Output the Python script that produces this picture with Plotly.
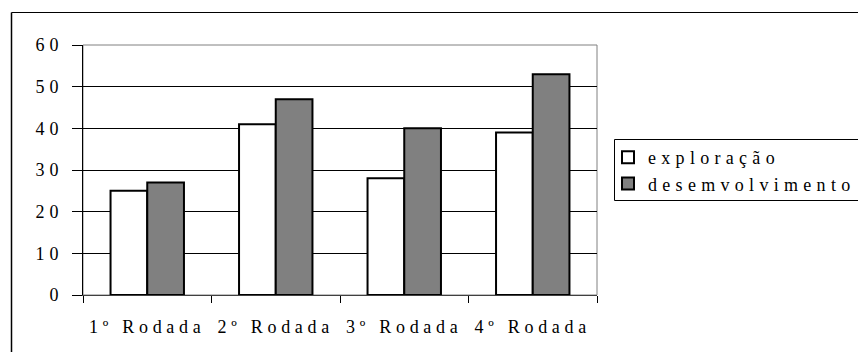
import plotly.graph_objects as go

categories = ["1º Rodada", "2º Rodada", "3º Rodada", "4º Rodada"]
exploracao = [25, 41, 28, 39]
desenvolvimento = [27, 47, 40, 53]
series_names = ["exploração", "desemvolvimento"]
y_ticks = [0, 10, 20, 30, 40, 50, 60]

FONT = "Liberation Serif, Times New Roman, serif"

fig = go.Figure()
fig.add_trace(go.Bar(
    x=categories, y=exploracao, name=series_names[0],
    marker=dict(color="#ffffff", line=dict(color="#000000", width=2)),
    legendgroup="a",
))
fig.add_trace(go.Bar(
    x=categories, y=desenvolvimento, name=series_names[1],
    marker=dict(color="#808080", line=dict(color="#000000", width=2)),
    legendgroup="b",
))

W, H = 858, 352
L, R, T, B = 83, 261, 45, 57
pw, ph = W - L - R, H - T - B

def px2x(px):
    return (px - L) / pw

def py2y(py):
    return (H - B - py) / ph

fig.update_layout(
    width=W, height=H,
    margin=dict(l=L, r=R, t=T, b=B, pad=0, autoexpand=False),
    paper_bgcolor="#ffffff", plot_bgcolor="#ffffff",
    font=dict(family=FONT, size=18, color="#000000"),
    barmode="group", bargap=1.5 / 3.5, bargroupgap=0,
    showlegend=True,
    legend=dict(
        x=px2x(608), y=py2y(139), xanchor="left", yanchor="top",
        bgcolor="rgba(0,0,0,0)", borderwidth=0,
        font=dict(family=FONT, size=18, color="#000000"),
        tracegroupgap=5, traceorder="normal",
    ),
    xaxis=dict(
        type="category", tickson="boundaries", ticks="outside", ticklen=7,
        tickcolor="#000000", tickwidth=1, automargin=False,
        showline=True, linecolor="#404040", linewidth=1,
        showgrid=False, ticklabelstandoff=15,
        tickfont=dict(family=FONT, size=18, color="#000000"),
    ),
    yaxis=dict(
        range=[0, 60], tickvals=y_ticks, ticks="outside", ticklen=10,
        tickcolor="#000000", tickwidth=1, automargin=False,
        showline=True, linecolor="#000000", linewidth=1,
        showgrid=True, gridcolor="#000000", gridwidth=1, zeroline=False,
        ticklabelstandoff=5,
        tickfont=dict(family=FONT, size=18, color="#000000"),
    ),
    shapes=[
        dict(type="rect", xref="paper", yref="paper", x0=0, x1=1, y0=0, y1=1,
             line=dict(color="#808080", width=1), layer="below"),
        dict(type="line", xref="paper", yref="paper",
             x0=px2x(11.5), x1=px2x(11.5), y0=py2y(360), y1=py2y(12.5),
             line=dict(color="#000000", width=1.5), layer="above"),
        dict(type="line", xref="paper", yref="paper",
             x0=px2x(11.5), x1=px2x(870), y0=py2y(12.5), y1=py2y(12.5),
             line=dict(color="#000000", width=1), layer="above"),
        dict(type="rect", xref="paper", yref="paper",
             x0=px2x(614.5), x1=px2x(880), y0=py2y(200.5), y1=py2y(139.5),
             line=dict(color="#000000", width=1), layer="above"),
    ],
)

post = """
document.body.style.margin = '0';
var gd = document.getElementById('{plot_id}');
gd.querySelectorAll('.xtick text').forEach(function(t){ t.style.letterSpacing = '4.7px'; });
gd.querySelectorAll('.ytick text').forEach(function(t){ t.style.letterSpacing = '5px'; });
gd.querySelectorAll('.legendtext').forEach(function(t){ t.style.letterSpacing = '5.3px'; });
gd.querySelectorAll('.legend .scrollbox').forEach(function(e){ e.removeAttribute('clip-path'); });
"""

fig.write_html("out.html", post_script=post, config={"displayModeBar": False})
